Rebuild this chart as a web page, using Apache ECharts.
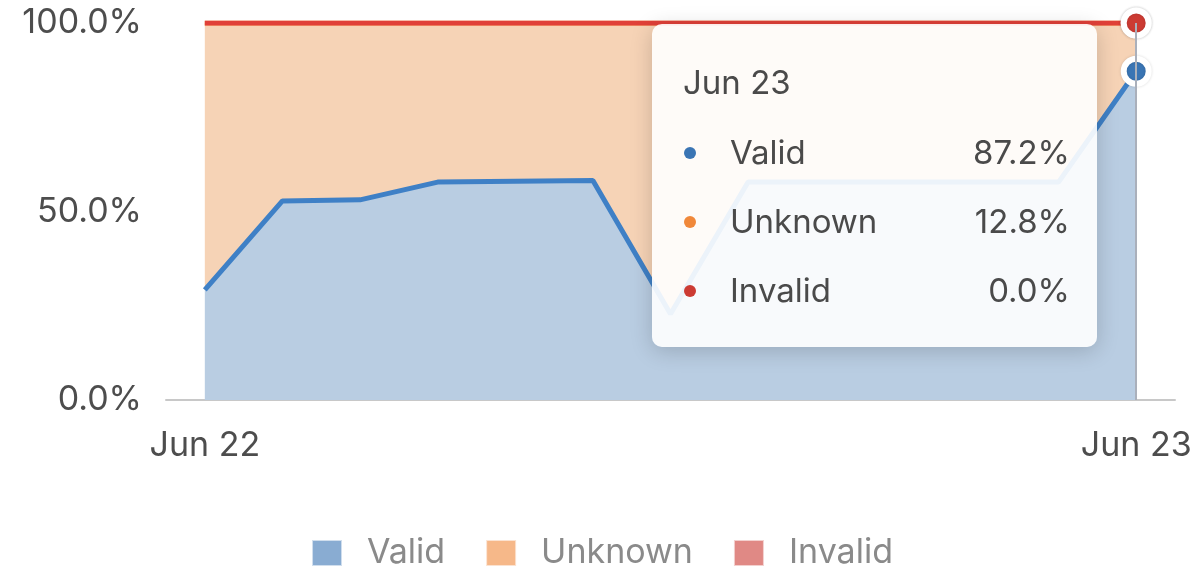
<!DOCTYPE html>
<html>
<head>
<meta charset="utf-8">
<script src="https://cdn.jsdelivr.net/npm/echarts@6/dist/echarts.min.js"></script>
<style>
html,body{margin:0;padding:0;background:#fff;}
#chart{width:1204px;height:570px;}
</style>
</head>
<body>
<div id="chart"></div>
<script>
const categories = ['Jun 22','02:00','04:00','06:00','08:00','10:00','12:00','14:00','16:00','18:00','20:00','22:00','Jun 23'];
const validValues   = [29.2, 52.8, 53.1, 57.8, 58.0, 58.2, 22.8, 57.8, 57.8, 57.8, 57.8, 57.8, 87.2];
const unknownValues = [70.8, 47.2, 46.9, 42.2, 42.0, 41.8, 77.2, 42.2, 42.2, 42.2, 42.2, 42.2, 12.8];
const invalidValues = [0, 0, 0, 0, 0, 0, 0, 0, 0, 0, 0, 0, 0];
const seriesNames = ['Valid', 'Unknown', 'Invalid'];
const yTicks = [0, 50, 100];

const FONT = 'Inter, "Noto Sans", sans-serif';
const colors = ['#3a75b4', '#f0883a', '#cc3b33'];
const areaColors = ['#b9cde2', '#f6d3b6', '#f0c4c1'];
const lastIdx = categories.length - 1;

const chart = echarts.init(document.getElementById('chart'), null, {renderer: 'canvas'});

function mkSeries(i, data) {
  return {
    name: seriesNames[i],
    type: 'line',
    stack: 'total',
    data: data,
    showSymbol: false,
    symbol: 'circle',
    symbolSize: 25,
    lineStyle: {color: colors[i], width: 5},
    itemStyle: {color: colors[i], borderColor: '#fff', borderWidth: 6, shadowColor: 'rgba(0,0,0,0.15)', shadowBlur: 3},
    areaStyle: {color: areaColors[i], opacity: 1},
    emphasis: {scale: false, focus: 'none', lineStyle: {width: 5}, areaStyle: {color: areaColors[i], opacity: 1}},
    animation: false
  };
}

const option = {
  animation: false,
  color: colors,
  textStyle: {fontFamily: FONT},
  grid: {left: 166, right: 29, top: 23, bottom: 170, containLabel: false},
  legend: {
    bottom: -5,
    left: 'center',
    itemWidth: 30,
    itemHeight: 26,
    itemGap: 40,
    icon: 'rect',
    itemStyle: {opacity: 0.6},
    textStyle: {color: '#8a8a8a', fontSize: 34, fontFamily: FONT, padding: [0, 0, 0, 20]},
    data: seriesNames
  },
  tooltip: {
    trigger: 'axis',
    alwaysShowContent: true,
    transitionDuration: 0,
    position: [652, 24],
    padding: 0,
    borderWidth: 0,
    backgroundColor: 'rgba(255,255,255,0.9)',
    extraCssText: 'border-radius:10px;box-shadow:0 4px 22px rgba(0,0,0,0.18);',
    axisPointer: {type: 'line', lineStyle: {color: '#aab0bb', width: 2, type: 'solid'}},
    formatter: function (params) {
      let html = '<div style="width:445px;height:323px;box-sizing:border-box;padding:38px 27px 0 31px;font-family:' + FONT.replace(/"/g, "'") + ';color:#4a4a4a;">';
      html += '<div style="height:40px;line-height:40px;font-size:33px;margin-bottom:16px;">' + params[0].axisValue + '</div>';
      params.forEach(function (p) {
        html += '<div style="height:69px;line-height:69px;font-size:33px;display:flex;align-items:center;">' +
          '<span style="display:inline-block;width:12px;height:12px;border-radius:50%;background:' + colors[p.seriesIndex] + ';margin-left:1px;margin-right:34px;"></span>' +
          '<span style="flex:1;">' + p.seriesName + '</span>' +
          '<span>' + Number(p.value).toFixed(1) + '%</span></div>';
      });
      html += '</div>';
      return html;
    }
  },
  xAxis: {
    type: 'category',
    data: categories,
    boundaryGap: true,
    axisLine: {lineStyle: {color: '#c8c8c8', width: 2}},
    axisTick: {
      alignWithLabel: true,
      length: 11,
      lineStyle: {color: '#c8c8c8', width: 2},
      interval: function (i) { return i === 0 || i === lastIdx; }
    },
    axisLabel: {
      color: '#4d4d4d',
      fontSize: 34,
      fontFamily: FONT,
      margin: 29,
      interval: function (i) { return i === 0 || i === lastIdx; }
    }
  },
  yAxis: {
    type: 'value',
    min: 0,
    max: yTicks[yTicks.length - 1],
    interval: yTicks[1] - yTicks[0],
    splitLine: {show: false},
    axisLine: {show: false},
    axisTick: {show: false},
    axisLabel: {
      color: '#4d4d4d',
      fontSize: 34,
      fontFamily: FONT,
      margin: 24,
      formatter: function (v) { return v.toFixed(1) + '%'; }
    }
  },
  series: [
    mkSeries(0, validValues),
    mkSeries(1, unknownValues),
    mkSeries(2, invalidValues)
  ]
};

chart.setOption(option);
chart.dispatchAction({type: 'showTip', seriesIndex: 0, dataIndex: lastIdx});
setTimeout(function () {
  chart.dispatchAction({type: 'showTip', seriesIndex: 0, dataIndex: lastIdx});
}, 50);
</script>
</body>
</html>
